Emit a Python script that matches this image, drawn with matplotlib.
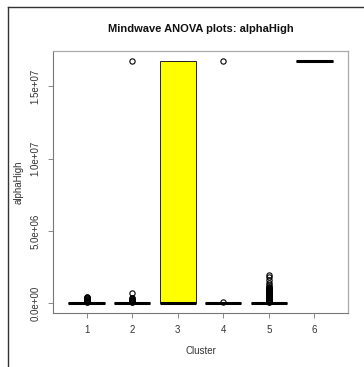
import matplotlib
matplotlib.use("Agg")
import matplotlib.pyplot as plt
from matplotlib.lines import Line2D

plt.rcParams['font.family'] = ['Liberation Sans', 'DejaVu Sans']

# box statistics per cluster
clusters = [1, 2, 3, 4, 5, 6]
q1 = [0, 0, 20000, 0, 0, 16777215]
med = [10000, 10000, 40000, 10000, 10000, 16777215]
q3 = [20000, 20000, 16777215, 20000, 20000, 16777215]
whislo = [0, 0, 0, 0, 0, 16777215]
whishi = [40000, 40000, 16777215, 40000, 40000, 16777215]
fliers = [
    [60000, 100000, 140000, 180000, 220000, 260000, 300000, 340000, 380000, 420000, 440000],
    [60000, 100000, 140000, 180000, 220000, 260000, 300000, 340000, 370000, 740000, 16777215],
    [],
    [80000, 16777215],
    [60000, 100000, 140000, 180000, 220000, 260000, 300000, 340000, 380000, 420000,
     460000, 500000, 540000, 580000, 620000, 660000, 700000, 740000, 780000, 820000,
     860000, 900000, 940000, 980000, 1020000, 1060000, 1100000, 1130000, 1250000,
     1400000, 1600000, 1800000, 1990000],
    [],
]

stats = []
for i in range(len(clusters)):
    stats.append(dict(med=med[i], q1=q1[i], q3=q3[i], whislo=whislo[i],
                      whishi=whishi[i], fliers=fliers[i], label=str(clusters[i])))

W, H = 364, 367
fig = plt.figure(figsize=(W / 100, H / 100), dpi=100)
ax = fig.add_axes([53 / W, 1 - 313 / H, (348 - 53) / W, (313 - 51) / H])

ax.bxp(stats, positions=clusters, widths=0.8, patch_artist=True,
       boxprops=dict(facecolor='white', edgecolor='#222222', linewidth=0.7),
       medianprops=dict(color='black', linewidth=2.2, solid_capstyle='butt'),
       whiskerprops=dict(color='#222222', linewidth=0.7, linestyle='--'),
       capprops=dict(color='#222222', linewidth=0.7),
       flierprops=dict(marker='o', markersize=3.8, markerfacecolor='none',
                       markeredgecolor='black', markeredgewidth=0.8),
       capwidths=0.4)
ax.patches[2].set_facecolor('#ffff00')

allv = [v for s in stats for v in [s['whislo'], s['whishi']] + list(s['fliers'])]
lo, hi = min(allv), max(allv)
pad = 0.04 * (hi - lo)
ax.set_ylim(lo - pad, hi + pad)
xr = len(clusters) + 0.5 - 0.5
ax.set_xlim(0.5 - 0.04 * xr, len(clusters) + 0.5 + 0.04 * xr)

ax.set_xticks(clusters)
ax.set_xticklabels([str(c) for c in clusters])
yt = [0, 5e6, 1e7, 1.5e7]
ax.set_yticks(yt)
ax.set_yticklabels(['0.0e+00', '5.0e+06', '1.0e+07', '1.5e+07'], rotation=90, va='center')
ax.tick_params(axis='both', length=3.6, width=0.6, color='#777777', labelcolor='#333333',
               labelsize=7, pad=5.2)

for sp in ['top', 'right']:
    ax.spines[sp].set_color('#aaaaaa')
    ax.spines[sp].set_linewidth(0.9)
for sp in ['left', 'bottom']:
    ax.spines[sp].set_color('#777777')
    ax.spines[sp].set_linewidth(0.8)

ax.text(0.5, (313 - 29) / 262, 'Mindwave ANOVA plots: alphaHigh', transform=ax.transAxes,
        ha='center', va='center', fontsize=8.0, fontweight='bold', color='#111111')
ax.text(0.5, (313 - 351.5) / 262, 'Cluster', transform=ax.transAxes,
        ha='center', va='center', fontsize=7, color='#333333')
ax.text((18.5 - 53) / 295, 0.5, 'alphaHigh', transform=ax.transAxes, rotation=90,
        ha='center', va='center', fontsize=7, color='#333333')

# screenshot frame
fig.add_artist(Line2D([7.5 / W, 1], [1 - 6.5 / H, 1 - 6.5 / H], color='#333333', linewidth=1.0))
fig.add_artist(Line2D([7.5 / W, 7.5 / W], [0, 1 - 6.5 / H], color='#333333', linewidth=1.0))

fig.savefig('out.png', dpi=100)
